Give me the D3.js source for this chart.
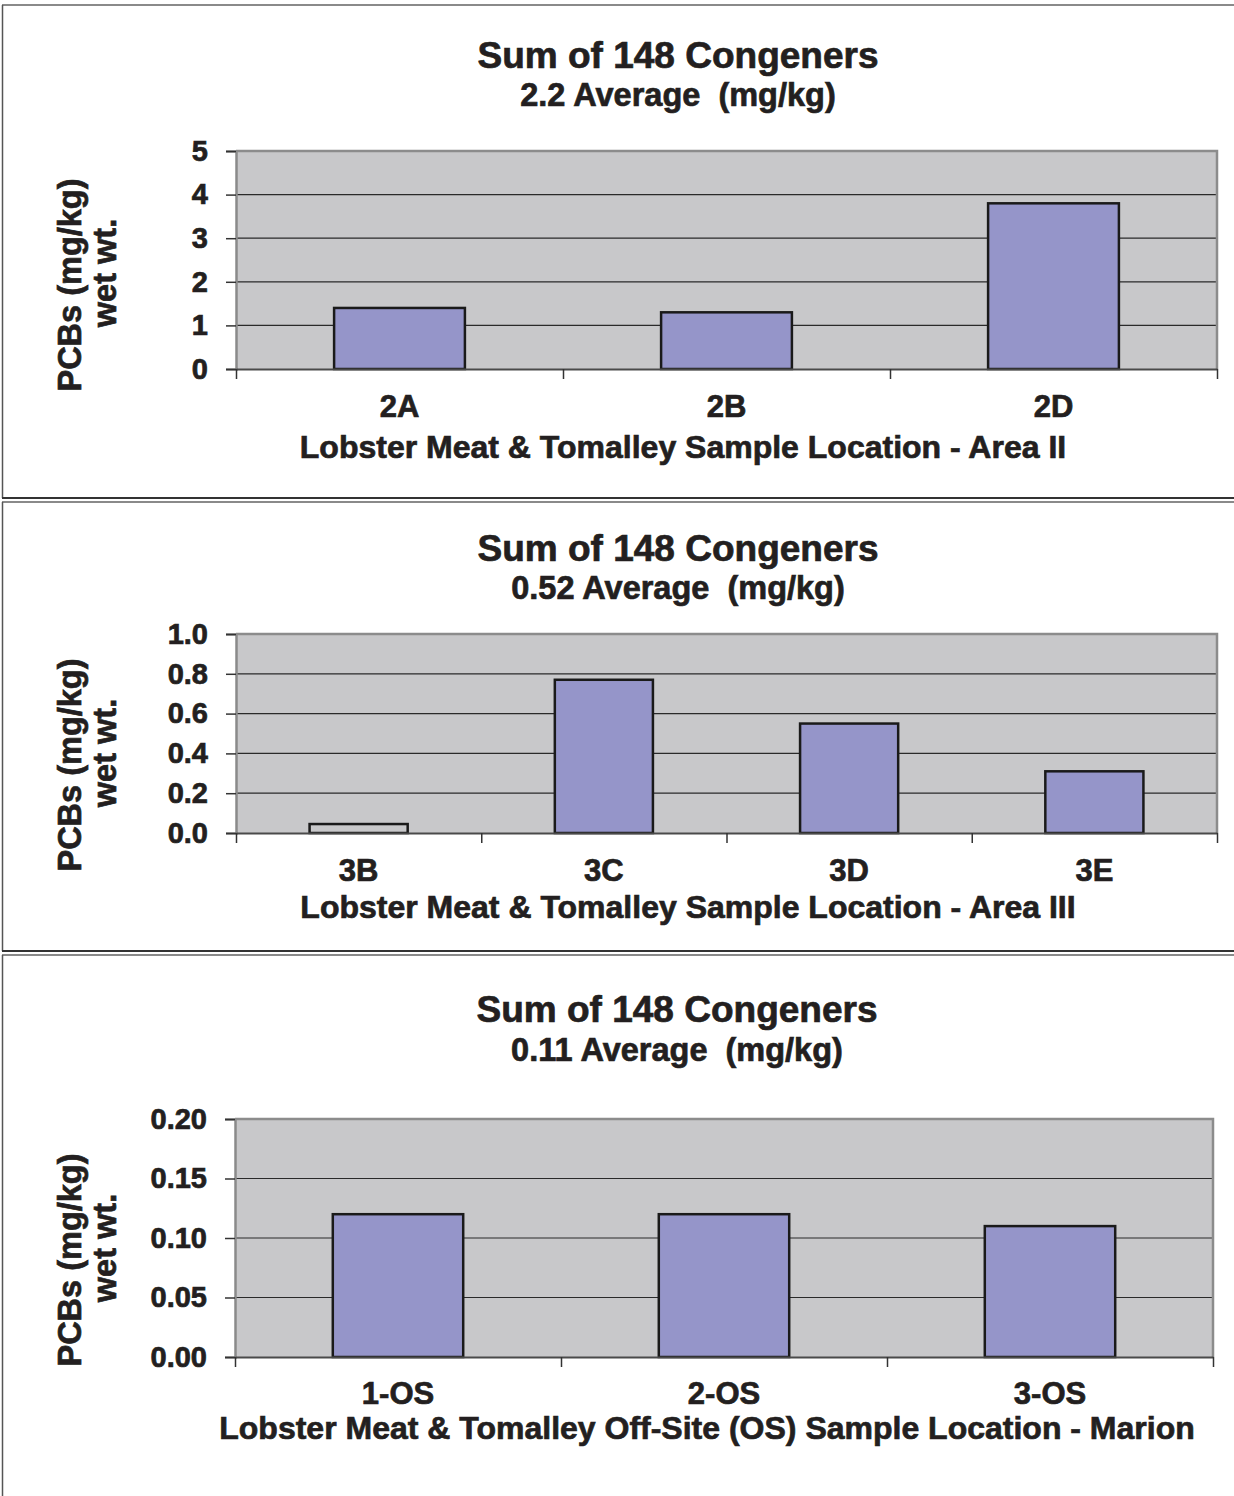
<!DOCTYPE html>
<html>
<head>
<meta charset="utf-8">
<script src="https://cdn.jsdelivr.net/npm/d3@7"></script>
<style>
  html, body { margin: 0; padding: 0; background: #ffffff; }
  svg { display: block; }
  text { font-family: "Liberation Sans", Arial, Helvetica, sans-serif; font-weight: bold; fill: #231f20; stroke: #231f20; stroke-width: 0.7px; }
</style>
</head>
<body>
<svg id="chart" width="1234" height="1496"></svg>
<script>
// ---------------- data ----------------
const chartTitle = "Sum of 148 Congeners";
const subtitles = ["2.2 Average  (mg/kg)", "0.52 Average  (mg/kg)", "0.11 Average  (mg/kg)"];
const yTitleLines = ["PCBs (mg/kg)", "wet wt."];
const xTitles = [
  "Lobster Meat & Tomalley Sample Location - Area II",
  "Lobster Meat & Tomalley Sample Location - Area III",
  "Lobster Meat & Tomalley Off-Site (OS) Sample Location - Marion"
];

const areaIICategories = ["2A", "2B", "2D"];
const areaIIValues = [1.4, 1.3, 3.8];
const areaIITicks = [0, 1, 2, 3, 4, 5];

const areaIIICategories = ["3B", "3C", "3D", "3E"];
const areaIIIValues = [0.045, 0.77, 0.55, 0.31];
const areaIIITicks = [0, 0.2, 0.4, 0.6, 0.8, 1.0];

const marionCategories = ["1-OS", "2-OS", "3-OS"];
const marionValues = [0.12, 0.12, 0.11];
const marionTicks = [0, 0.05, 0.10, 0.15, 0.20];

// ---------------- layout / style ----------------
const svg = d3.select("#chart");
const BAR_FILL = "#9595c9";
const PLOT_BG = "#c8c8ca";

const panels = [
  { cats: areaIICategories, vals: areaIIValues, ticks: areaIITicks, fmt: d3.format("d"),
    sub: subtitles[0], xt: xTitles[0],
    box: [5, 498], plot: { x0: 236, x1: 1217, y0: 151, y1: 369 },
    titleY: 68, subY: 106, catY: 417, xtY: 458, titleX: 678, xtX: 683, yTitleY: 285 },
  { cats: areaIIICategories, vals: areaIIIValues, ticks: areaIIITicks, fmt: d3.format(".1f"),
    sub: subtitles[1], xt: xTitles[1],
    box: [502, 951], plot: { x0: 236, x1: 1217, y0: 634, y1: 833 },
    titleY: 561, subY: 599, catY: 881, xtY: 918, titleX: 678, xtX: 688, yTitleY: 765 },
  { cats: marionCategories, vals: marionValues, ticks: marionTicks, fmt: d3.format(".2f"),
    sub: subtitles[2], xt: xTitles[2],
    box: [955, 1520], plot: { x0: 235, x1: 1213, y0: 1119, y1: 1357 },
    titleY: 1022, subY: 1061, catY: 1404, xtY: 1439, titleX: 677, xtX: 707, yTitleY: 1260 }
];

panels.forEach((p, pi) => {
  const g = svg.append("g");
  const [top, bottom] = p.box;

  // panel frame
  g.append("line").attr("x1", 2).attr("x2", 1234).attr("y1", top).attr("y2", top)
    .attr("stroke", "#8a8a8a").attr("stroke-width", 2);
  g.append("line").attr("x1", 2.5).attr("x2", 2.5).attr("y1", top).attr("y2", bottom)
    .attr("stroke", "#555").attr("stroke-width", 1.5);
  if (bottom < 1496) {
    g.append("line").attr("x1", 2).attr("x2", 1234).attr("y1", bottom).attr("y2", bottom)
      .attr("stroke", "#333").attr("stroke-width", 2);
  }

  const pl = p.plot;
  const yMax = p.ticks[p.ticks.length - 1];
  const y = d3.scaleLinear().domain([0, yMax]).range([pl.y1, pl.y0]);
  const x = d3.scaleBand().domain(p.cats).range([pl.x0, pl.x1])
    .paddingInner(0.6).paddingOuter(0.3);
  const xEdges = d3.scaleLinear().domain([0, p.cats.length]).range([pl.x0, pl.x1]);

  // plot background
  g.append("rect").attr("x", pl.x0).attr("y", pl.y0)
    .attr("width", pl.x1 - pl.x0).attr("height", pl.y1 - pl.y0).attr("fill", PLOT_BG);

  // gridlines
  g.append("g").selectAll("line")
    .data(p.ticks.filter(t => t > 0 && t < yMax))
    .join("line")
    .attr("x1", pl.x0).attr("x2", pl.x1)
    .attr("y1", d => y(d)).attr("y2", d => y(d))
    .attr("stroke", "#2a2a2a").attr("stroke-width", 1.2);

  // plot border (top/right grey)
  g.append("path")
    .attr("d", `M${pl.x0},${pl.y0}H${pl.x1}V${pl.y1}`)
    .attr("fill", "none").attr("stroke", "#8c8c8c").attr("stroke-width", 2.5);

  // bars
  g.append("g").selectAll("rect")
    .data(p.cats.map((c, i) => ({ c, v: p.vals[i] })))
    .join("rect")
    .attr("x", d => x(d.c))
    .attr("width", x.bandwidth())
    .attr("y", d => y(d.v))
    .attr("height", d => y(0) - y(d.v))
    .attr("fill", d => (y(0) - y(d.v)) < 12 ? PLOT_BG : BAR_FILL)
    .attr("stroke", "#1a1a1a").attr("stroke-width", 2.5);

  // y axis
  const yAxis = d3.axisLeft(y).tickValues(p.ticks).tickFormat(p.fmt)
    .tickSize(10).tickPadding(18);
  const ya = g.append("g").attr("transform", `translate(${pl.x0},0)`).call(yAxis);
  ya.select(".domain").attr("stroke", "#8a8a8a").attr("stroke-width", 2.5);
  ya.selectAll(".tick line").attr("stroke", "#333").attr("stroke-width", 1.5);
  ya.selectAll(".tick text").attr("font-size", 29).attr("font-weight", "bold")
    .attr("font-family", "Liberation Sans, Arial, sans-serif").attr("fill", "#231f20");

  // x axis (edge ticks)
  const xAxis = d3.axisBottom(xEdges).tickValues(d3.range(0, p.cats.length + 1))
    .tickFormat("").tickSize(10).tickSizeOuter(0);
  const xa = g.append("g").attr("transform", `translate(0,${pl.y1})`).call(xAxis);
  xa.select(".domain").attr("stroke", "#4a4a4a").attr("stroke-width", 2);
  xa.selectAll(".tick line").attr("stroke", "#333").attr("stroke-width", 1.5);

  // category labels
  const xl = d3.axisBottom(x).tickSize(0).tickPadding(0);
  const xlg = g.append("g").attr("transform", `translate(0,${p.catY})`).call(xl);
  xlg.select(".domain").remove();
  xlg.selectAll(".tick text").attr("dy", 0).attr("y", 0)
    .attr("font-size", 31).attr("font-weight", "bold")
    .attr("font-family", "Liberation Sans, Arial, sans-serif").attr("fill", "#231f20");

  // titles
  g.append("text").attr("x", p.titleX).attr("y", p.titleY).attr("text-anchor", "middle")
    .attr("font-size", 37).text(chartTitle);
  g.append("text").attr("x", p.titleX).attr("y", p.subY).attr("text-anchor", "middle")
    .attr("font-size", 32.5).style("white-space", "pre").text(p.sub);
  g.append("text").attr("x", p.xtX).attr("y", p.xtY).attr("text-anchor", "middle")
    .attr("font-size", 32).text(p.xt);

  // y title (two lines, rotated)
  const yt = g.append("text")
    .attr("transform", `translate(81,${p.yTitleY}) rotate(-90)`)
    .attr("text-anchor", "middle").attr("font-size", 32.5);
  yt.append("tspan").attr("x", 0).attr("y", 0).text(yTitleLines[0]);
  yt.append("tspan").attr("x", 12).attr("y", 35).text(yTitleLines[1]);
});
</script>
</body>
</html>
